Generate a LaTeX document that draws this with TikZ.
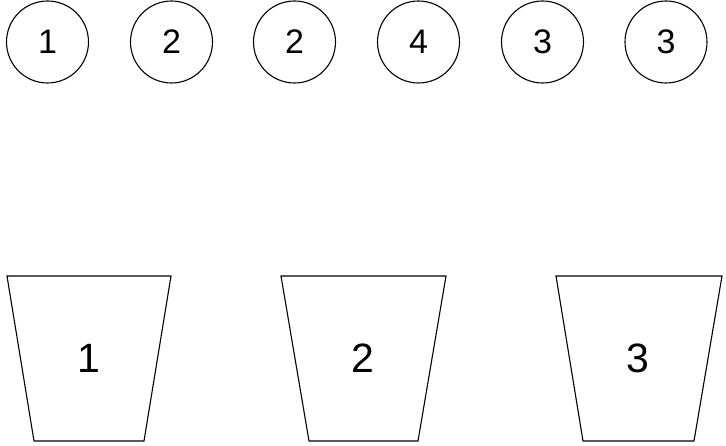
\documentclass[tikz,border=0pt]{standalone}
\usepackage{fontspec}
\setmainfont{Liberation Sans}
\begin{document}
\begin{tikzpicture}[x=1pt,y=-1pt,
  ball/.style={draw,circle,line width=1.1pt,minimum size=82pt,inner sep=0pt,font=\fontsize{34}{40}\selectfont},
  bucket/.style={draw,line width=1.1pt,line join=miter},
  blabel/.style={font=\fontsize{41}{48}\selectfont,inner sep=0pt}]
\useasboundingbox (0,0) rectangle (726,446);
\fill[white] (0,0) rectangle (726,446);
\node[ball] (c1) at (47.5,42) {1};
\node[ball] (c2) at (171.5,42) {2};
\node[ball] (c3) at (294.5,42) {2};
\node[ball] (c4) at (418.5,42) {4};
\node[ball] (c5) at (542.5,42) {3};
\node[ball] (c6) at (666,42) {3};
\draw[bucket] (7,276) -- (171,276) -- (144,441) -- (34,441) -- cycle;
\draw[bucket] (281,276) -- (446,276) -- (418,441) -- (309,441) -- cycle;
\draw[bucket] (556,276) -- (722,276) -- (694,441) -- (583,441) -- cycle;
\node[blabel] (b1) at (89,358) {1};
\node[blabel] (b2) at (363,358) {2};
\node[blabel] (b3) at (638,358) {3};
\end{tikzpicture}
\end{document}
